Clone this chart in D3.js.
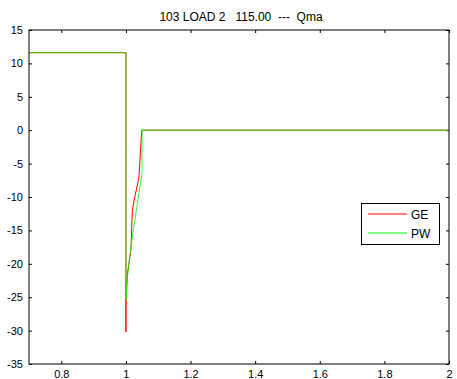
<!DOCTYPE html>
<html><head><meta charset="utf-8">
<script src="https://cdn.jsdelivr.net/npm/d3@7"></script>
<style>body{margin:0;background:#fff}svg{display:block}text{font-family:"Liberation Sans",Arial,sans-serif;white-space:pre}</style>
</head><body>
<script>
const title = "103 LOAD 2   115.00  ---  Qma";
const xTicks = [0.8, 1, 1.2, 1.4, 1.6, 1.8, 2];
const yTicks = [15, 10, 5, 0, -5, -10, -15, -20, -25, -30, -35];
const seriesNames = ["GE", "PW"];
const seriesColors = ["#ff0000", "#00ff00"];
const geT = [0.7, 1.0, 1.0, 1.0, 1.005, 1.0155, 1.020, 1.025, 1.04, 1.049, 2.0];
const geV = [11.6, 11.6, -30.2, -25.5, -21.4, -17.9, -11.9, -10.5, -7.2, 0, 0];
const pwT = [0.7, 1.0, 1.0, 1.004, 1.0167, 1.05, 1.05, 2.0];
const pwV = [11.6, 11.6, -25.4, -22.2, -17.0, -6.3, 0, 0];

const W = 457, H = 379;
const m = {l: 29, r: 449, t: 30, b: 364};
const svg = d3.select("body").append("svg").attr("width", W).attr("height", H);
const x = d3.scaleLinear().domain([0.7, 2]).range([m.l, m.r]);
const y = d3.scaleLinear().domain([-35, 15]).range([m.b, m.t]);

svg.append("text").attr("x", 241).attr("y", 21).attr("text-anchor", "middle")
  .attr("xml:space", "preserve").attr("font-size", 12).text(title);

const gx = svg.append("g").attr("transform", `translate(0,${m.b})`)
  .call(d3.axisBottom(x).tickValues(xTicks).tickSize(-3).tickFormat(d => d));
const gxt = svg.append("g").attr("transform", `translate(0,${m.t})`)
  .call(d3.axisTop(x).tickValues(xTicks).tickSize(-3).tickFormat(""));
const gy = svg.append("g").attr("transform", `translate(${m.l},0)`)
  .call(d3.axisLeft(y).tickValues(yTicks).tickSize(-3).tickPadding(6).tickFormat(d => d));
const gyr = svg.append("g").attr("transform", `translate(${m.r},0)`)
  .call(d3.axisRight(y).tickValues(yTicks).tickSize(-3).tickFormat(""));
[gx, gxt, gy, gyr].forEach(g => {
  g.select(".domain").remove();
  g.selectAll("line").attr("stroke", "#000");
  g.selectAll("text").attr("font-size", 11).attr("fill", "#000").attr("font-family", "Liberation Sans, Arial, sans-serif");
});
gx.selectAll("text").attr("dy", "0.71em").attr("y", 6);

const line = d3.line().x(d => x(d[0])).y(d => y(d[1]));
svg.append("clipPath").attr("id", "c").append("rect")
  .attr("x", m.l).attr("y", m.t).attr("width", m.r - m.l).attr("height", m.b - m.t);
const geData = geT.map((t, i) => [t, geV[i]]);
const pwData = pwT.map((t, i) => [t, pwV[i]]);
svg.append("path").datum(geData).attr("d", line).attr("fill", "none")
  .attr("stroke", seriesColors[0]).attr("stroke-width", 1).attr("clip-path", "url(#c)");
svg.append("path").datum(pwData).attr("d", line).attr("fill", "none")
  .attr("stroke", seriesColors[1]).attr("stroke-opacity", 0.8).attr("stroke-width", 1).attr("clip-path", "url(#c)");

svg.append("rect").attr("x", m.l).attr("y", m.t).attr("width", m.r - m.l).attr("height", m.b - m.t)
  .attr("fill", "none").attr("stroke", "#000").attr("stroke-width", 1);

// legend
const lg = svg.append("g");
lg.append("rect").attr("x", 361.5).attr("y", 203.5).attr("width", 78).attr("height", 41)
  .attr("fill", "#fff").attr("stroke", "#000");
seriesNames.forEach((n, i) => {
  const yy = 214 + i * 19;
  lg.append("line").attr("x1", 368).attr("x2", 407).attr("y1", yy).attr("y2", yy)
    .attr("stroke", seriesColors[i]).attr("stroke-width", 1);
  lg.append("text").attr("x", 411).attr("y", yy + 4.5).attr("font-size", 12).text(n);
});
</script>
</body></html>
